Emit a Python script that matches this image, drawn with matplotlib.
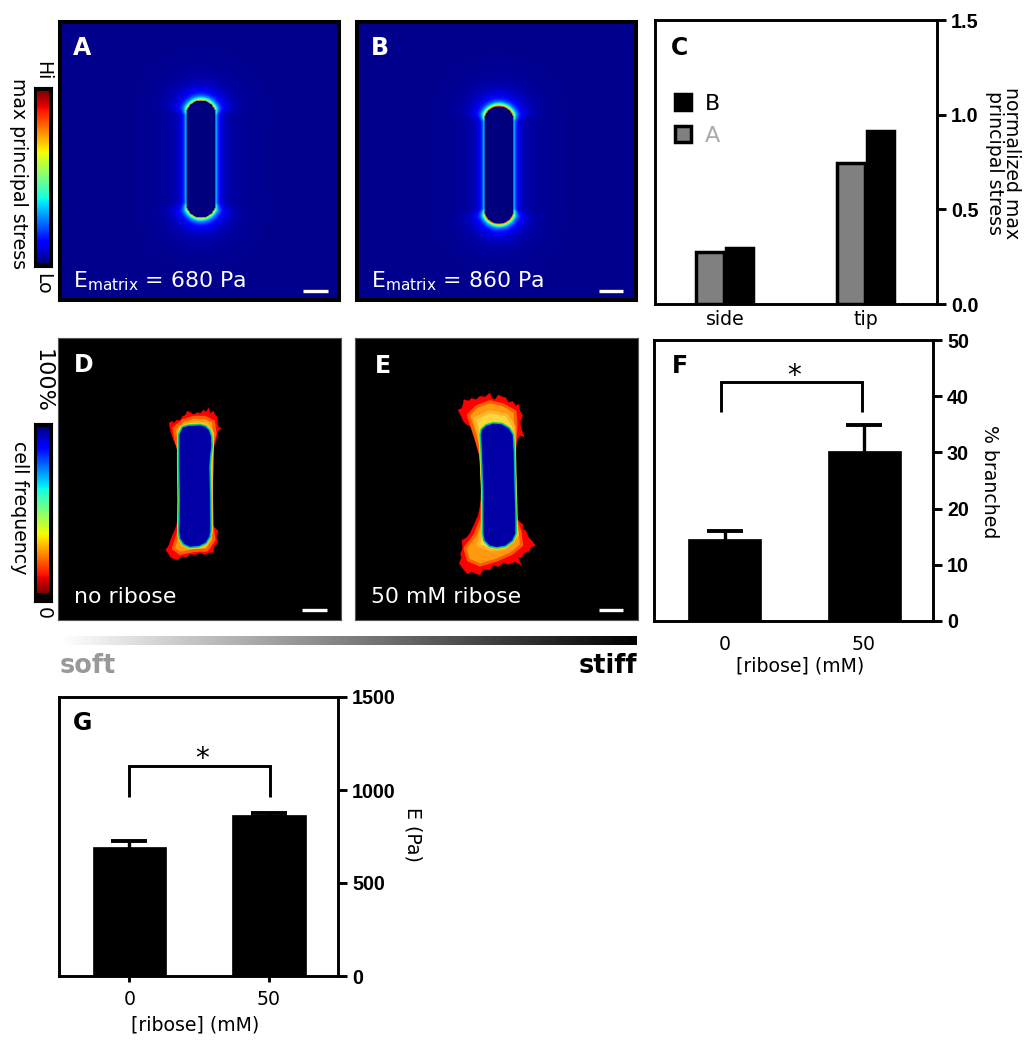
import numpy as np
import matplotlib
matplotlib.use("Agg")
import matplotlib.pyplot as plt
from matplotlib.patches import Patch

W, H = 1031, 1050
plt.rcParams["font.family"] = ["DejaVu Sans"]
plt.rcParams["mathtext.default"] = "regular"

# panel C
sites = ["side", "tip"]
stress_a = [0.275, 0.745]
stress_b = [0.295, 0.914]

# panels F, G
ribose = ["0", "50"]
branched = [14.6, 30.2]
branched_err = [1.4, 4.7]
modulus = [693, 866]
modulus_err = [33, 11]

# peak colour level on the cell edge, panels A, B
edge_tip = [0.70, 0.86]
edge_side = [0.33, 0.33]

# cell outlines in panel D and E, in pixels of the 3x crops
D_RED_X = [58, 66, 72, 80, 90, 97, 106, 112, 122, 130, 142, 152, 160, 168, 176, 180, 190, 196, 200, 202, 206, 214, 204, 200, 196, 190, 186, 186, 184, 185, 187, 192, 204, 199, 203, 192, 190, 176, 165, 150, 135, 120, 108, 95, 84, 72, 62, 55, 47, 56, 62, 68, 74, 80, 86, 88, 88, 85, 76, 70, 64, 60]
D_RED_Y = [68, 64, 70, 60, 62, 50, 46, 34, 38, 44, 38, 40, 30, 36, 24, 40, 34, 46, 50, 70, 82, 84, 92, 112, 128, 145, 160, 200, 270, 340, 370, 382, 392, 410, 428, 440, 456, 458, 464, 458, 464, 462, 472, 468, 480, 476, 472, 460, 450, 438, 420, 405, 392, 375, 345, 260, 190, 150, 132, 118, 100, 84]
D_ORANGE_X = [72, 100, 130, 165, 190, 195, 188, 186, 184, 186, 192, 170, 130, 90, 70, 85, 88, 88, 86, 78]
D_ORANGE_Y = [85, 62, 52, 52, 65, 100, 130, 170, 270, 380, 420, 450, 452, 460, 445, 400, 350, 260, 150, 120]
D_YELLOW_X = [90, 130, 170, 188, 186, 184, 183, 165, 120, 95, 87, 88, 87]
D_YELLOW_Y = [85, 68, 72, 100, 140, 270, 400, 440, 442, 425, 385, 260, 130]
D_CORE_X = [100, 115, 150, 165, 175, 181, 182, 178, 176, 178, 179, 176, 165, 145, 120, 103, 93, 90, 92, 90, 90, 90]
D_CORE_Y = [84, 80, 78, 82, 92, 110, 140, 170, 200, 300, 390, 410, 427, 436, 438, 430, 415, 395, 300, 200, 150, 105]

E_RED_X = [54, 66, 70, 72, 85, 95, 108, 120, 135, 150, 156, 165, 175, 188, 197, 205, 218, 228, 236, 240, 248, 240, 244, 252, 240, 232, 226, 224, 226, 230, 240, 250, 246, 258, 264, 276, 286, 272, 268, 250, 245, 234, 244, 225, 205, 190, 175, 160, 150, 130, 120, 108, 95, 82, 70, 58, 64, 62, 68, 66, 80, 90, 102, 115, 125, 125, 120, 110, 100, 92, 80, 70, 62]
E_RED_Y = [75, 70, 55, 44, 48, 40, 44, 34, 36, 24, 40, 44, 30, 36, 38, 52, 50, 62, 58, 78, 92, 110, 132, 155, 152, 162, 190, 270, 340, 400, 412, 420, 430, 438, 455, 468, 482, 486, 498, 505, 518, 518, 540, 530, 538, 532, 545, 540, 555, 552, 570, 566, 560, 566, 552, 535, 520, 505, 490, 466, 458, 445, 420, 390, 340, 270, 210, 175, 150, 125, 118, 108, 90]
E_ORANGE_X = [85, 110, 150, 190, 225, 228, 225, 222, 226, 240, 245, 215, 170, 120, 85, 75, 105, 125, 128, 122, 105]
E_ORANGE_Y = [90, 65, 50, 60, 80, 120, 165, 250, 400, 440, 480, 505, 525, 540, 525, 490, 450, 400, 300, 210, 150]
E_YELLOW_X = [105, 150, 200, 222, 222, 226, 232, 195, 150, 115, 125, 128, 128, 122]
E_YELLOW_Y = [100, 80, 90, 125, 200, 400, 450, 490, 495, 480, 440, 400, 300, 180]
E_CORE_X = [125, 128, 140, 160, 185, 205, 216, 219, 220, 224, 224, 215, 195, 170, 150, 136, 132, 132, 128]
E_CORE_Y = [150, 135, 124, 118, 120, 132, 150, 200, 250, 400, 445, 465, 480, 484, 480, 465, 445, 320, 200]

BASE = 13.6
BOLD = dict(family="Liberation Sans", fontweight="bold", fontsize=14.2)

fig = plt.figure(figsize=(W / 100, H / 100), dpi=100)


def px_axes(x0, y0, x1, y1):
    return fig.add_axes([x0 / W, 1 - y1 / H, (x1 - x0) / W, (y1 - y0) / H])


def ftext(x, y, s, **kw):
    kw.setdefault("ha", "center")
    kw.setdefault("va", "center")
    kw.setdefault("fontsize", BASE)
    fig.text(x / W, 1 - y / H, s, **kw)


def stress_field(xs, ys, cx, top, bottom, tip, side):
    # distance to a stadium shaped cell, colour level falls off from the edge
    r = 15.0
    yc = 0.5 * (top + bottom)
    half = 0.5 * (bottom - top) - r
    gx, gy = np.meshgrid(xs, ys)
    over = np.clip(np.abs(gy - yc) - half, 0, None)
    d = np.hypot(gx - cx, over) - r
    end = np.clip(over / r * 2, 0, 1)
    peak = side + (tip - side) * end
    glow = 0.10 + 0.16 * end
    dd = np.clip(d, 0, None)
    v = 0.012 + 0.03 * np.exp(-dd / 24) + glow * np.exp(-dd / (5.5 + 2.5 * end)) + (peak - glow - 0.04) * np.exp(-dd / 2.2)
    v[d < 0] = 0.0
    return v


def image_panel(x0, y0, x1, y1, framed):
    pad = 2 if framed else 0
    ax = px_axes(x0 + pad, y0 + pad, x1 - pad, y1 - pad)
    ax.set_xlim(x0 + pad, x1 - pad)
    ax.set_ylim(y1 - pad, y0 + pad)
    ax.set_xticks([])
    ax.set_yticks([])
    ax.set_facecolor("black")
    for sp in ax.spines.values():
        sp.set_linewidth(2.9 if framed else 0.8)
        sp.set_color("black" if framed else "#555555")
    return ax


def stress_panel(x0, x1, cx, top, bottom, tip, side):
    ax = image_panel(x0, 20, x1, 302, True)
    xs = np.arange(x0, x1 + 1)
    ys = np.arange(20, 303)
    ax.imshow(stress_field(xs, ys, cx, top, bottom, tip, side), cmap="jet", vmin=0, vmax=1,
              extent=[x0, x1, 302, 20], interpolation="bilinear", aspect="auto")
    ax.set_xlim(x0 + 2, x1 - 2)
    ax.set_ylim(300, 22)
    return ax


def cell_panel(ax, ox, oy, red, orange, yellow, core):
    def sc(p):
        return ox + np.array(p[0]) / 3, oy + np.array(p[1]) / 3
    ax.fill(*sc(red), fc="#ff0000", ec="#ff0000", lw=0.3)
    ax.fill(*sc(orange), fc="#ff9a10", ec="#ff5c00", lw=2.2, joinstyle="round")
    ax.fill(*sc(yellow), fc="#ffd63a", ec="#ffb428", lw=2.2, joinstyle="round")
    cx, cy = sc(core)
    for lw, c in [(4.4, "#d8e820"), (3.4, "#20d050"), (2.2, "#00b0c0"), (1.2, "#0050e0")]:
        ax.fill(cx, cy, fc="none", ec=c, lw=lw, joinstyle="round")
    ax.fill(cx, cy, fc="#0000a4", ec="#0000a4", lw=0.5)


def scale_bar(ax, x0, x1, y):
    ax.plot([x0, x1], [y, y], color="white", lw=2.4, solid_capstyle="butt")


def colorbar(x0, y0, x1, y1, ix0, iy0, ix1, iy1, flip):
    back = px_axes(x0, y0, x1, y1)
    back.set_facecolor("black")
    back.set_xticks([])
    back.set_yticks([])
    inner = px_axes(ix0, iy0, ix1, iy1)
    grad = np.linspace(1, 0, 256)[:, None]
    if flip:
        grad = grad[::-1]
    inner.imshow(grad, cmap="jet", aspect="auto", vmin=0, vmax=1)
    inner.axis("off")


def style_bar_axes(ax, ticks):
    for sp in ax.spines.values():
        sp.set_linewidth(2.1)
    ax.yaxis.tick_right()
    ax.tick_params(axis="y", direction="out", length=6.5, width=2.1, pad=3.5)
    ax.set_yticks(ticks)
    for t in ax.get_yticklabels():
        t.set(**BOLD)


def sig_bars(ax, vals, errs, xlim, ylim, ticks, fmt_ticks, bracket_x, bracket_y):
    ax.bar([0, 1], vals, width=0.525, color="black", edgecolor="black", lw=0.5)
    # symmetric bars: the lower half stays hidden inside the black bar
    ax.errorbar([0, 1], vals, yerr=errs, fmt="none", ecolor="black",
                elinewidth=2.4, capsize=13.2, capthick=2.8)
    ax.plot([bracket_x[0], bracket_x[0], bracket_x[1], bracket_x[1]],
            [bracket_y[0], bracket_y[1], bracket_y[1], bracket_y[0]],
            color="black", lw=2.1, solid_joinstyle="miter", solid_capstyle="butt")
    ax.set_xlim(*xlim)
    ax.set_ylim(*ylim)
    ax.set_xticks([0, 1], fmt_ticks, fontsize=BASE)
    style_bar_axes(ax, ticks)


# panels A, B
ax_a = stress_panel(58, 341, 201, 100, 218, edge_tip[0], edge_side[0])
ax_b = stress_panel(355, 638, 499, 106, 224, edge_tip[1], edge_side[1])
scale_bar(ax_a, 303, 328, 291)
scale_bar(ax_b, 599, 623, 291)
ftext(73, 48, "A", color="white", fontweight="bold", fontsize=17, ha="left")
ftext(371, 48, "B", color="white", fontweight="bold", fontsize=17, ha="left")
ftext(73, 281, "E$_{matrix}$ = 680 Pa", color="white", fontsize=15.8, ha="left")
ftext(371, 281, "E$_{matrix}$ = 860 Pa", color="white", fontsize=15.8, ha="left")

# panels D, E
ax_d = image_panel(58, 338, 341, 620, False)
ax_e = image_panel(355, 338, 638, 620, False)
cell_panel(ax_d, 150, 400, (D_RED_X, D_RED_Y), (D_ORANGE_X, D_ORANGE_Y), (D_YELLOW_X, D_YELLOW_Y), (D_CORE_X, D_CORE_Y))
cell_panel(ax_e, 440, 385, (E_RED_X, E_RED_Y), (E_ORANGE_X, E_ORANGE_Y), (E_YELLOW_X, E_YELLOW_Y), (E_CORE_X, E_CORE_Y))
scale_bar(ax_d, 302, 327, 610)
scale_bar(ax_e, 599, 623, 610)
ftext(74, 365, "D", color="white", fontweight="bold", fontsize=17, ha="left")
ftext(375, 366, "E", color="white", fontweight="bold", fontsize=17, ha="left")
ftext(74, 597, "no ribose", color="white", fontsize=15.8, ha="left")
ftext(371, 597, "50 mM ribose", color="white", fontsize=15.8, ha="left")

# colour scales
colorbar(34, 87, 52, 267, 37, 91, 49, 263, False)
colorbar(34, 423, 52, 602, 37, 427, 49, 593, True)
ftext(43, 71, "Hi", rotation=270)
ftext(43, 284, "Lo", rotation=270)
ftext(18, 174, "max principal stress", rotation=270)
ftext(43, 381, "100%", rotation=270, fontsize=16)
ftext(43, 613, "0", rotation=270)
ftext(19, 508, "cell frequency", rotation=270)

# soft to stiff strip
strip = px_axes(60, 636, 637, 645)
strip.imshow(np.linspace(0, 1, 512)[None, :], cmap="gray_r", aspect="auto", vmin=0, vmax=1)
strip.axis("off")
ftext(60, 666, "soft", color="#999999", fontweight="bold", fontsize=18.4, ha="left")
ftext(637, 666, "stiff", color="black", fontweight="bold", fontsize=18.4, ha="right")

# panel C
ax_c = px_axes(655, 20, 937, 304)
off = 0.105
ax_c.bar(np.arange(2) - off, stress_a, width=0.195, color="#808080", edgecolor="black", lw=2.5)
ax_c.bar(np.arange(2) + off, stress_b, width=0.195, color="black", edgecolor="black", lw=2.5)
ax_c.set_xlim(-0.496, 1.504)
ax_c.set_ylim(0, 1.5)
ax_c.set_xticks([0, 1], sites, fontsize=BASE)
ax_c.tick_params(axis="x", length=0, pad=4)
style_bar_axes(ax_c, [0, 0.5, 1.0, 1.5])
ax_c.set_yticklabels(["0.0", "0.5", "1.0", "1.5"], **BOLD)
handles = [Patch(fc="black", ec="black", lw=2.5), Patch(fc="#808080", ec="black", lw=2.5)]
ax_c.legend(handles, ["B", "A"], loc="upper left", bbox_to_anchor=(0.07, 0.74), frameon=False,
            handlelength=0.74, handleheight=0.74, labelspacing=0.55, handletextpad=0.62,
            borderpad=0, borderaxespad=0, fontsize=16, labelcolor=["black", "#aaaaaa"])
ftext(671, 48, "C", fontweight="bold", fontsize=17, ha="left")
ftext(1003, 163, "normalized max\nprincipal stress", rotation=270, linespacing=0.9)

# panel F
ax_f = px_axes(654, 340, 933, 621)
sig_bars(ax_f, branched, branched_err, (-0.51, 1.496), (0, 50), [0, 10, 20, 30, 40, 50], ribose,
         (-0.03, 0.985), (37.2, 42.5))
ax_f.tick_params(axis="x", length=0, pad=10)
ftext(680, 366, "F", fontweight="bold", fontsize=17, color="black")
ftext(794, 376, "*", fontsize=20)
ftext(800, 666, "[ribose] (mM)")
ftext(990, 482, "% branched", rotation=270)

# panel G
ax_g = px_axes(59, 697, 338, 976)
sig_bars(ax_g, modulus, modulus_err, (-0.505, 1.495), (0, 1500), [0, 500, 1000, 1500], ribose,
         (0.0, 1.01), (962, 1129))
ax_g.tick_params(axis="x", length=4, width=2.1, pad=6)
ftext(83, 723, "G", fontweight="bold", fontsize=17, color="black")
ftext(202, 759, "*", fontsize=20)
ftext(195, 1025, "[ribose] (mM)")
ftext(413, 834, "E (Pa)", rotation=270)

fig.savefig("out.png", dpi=100)
